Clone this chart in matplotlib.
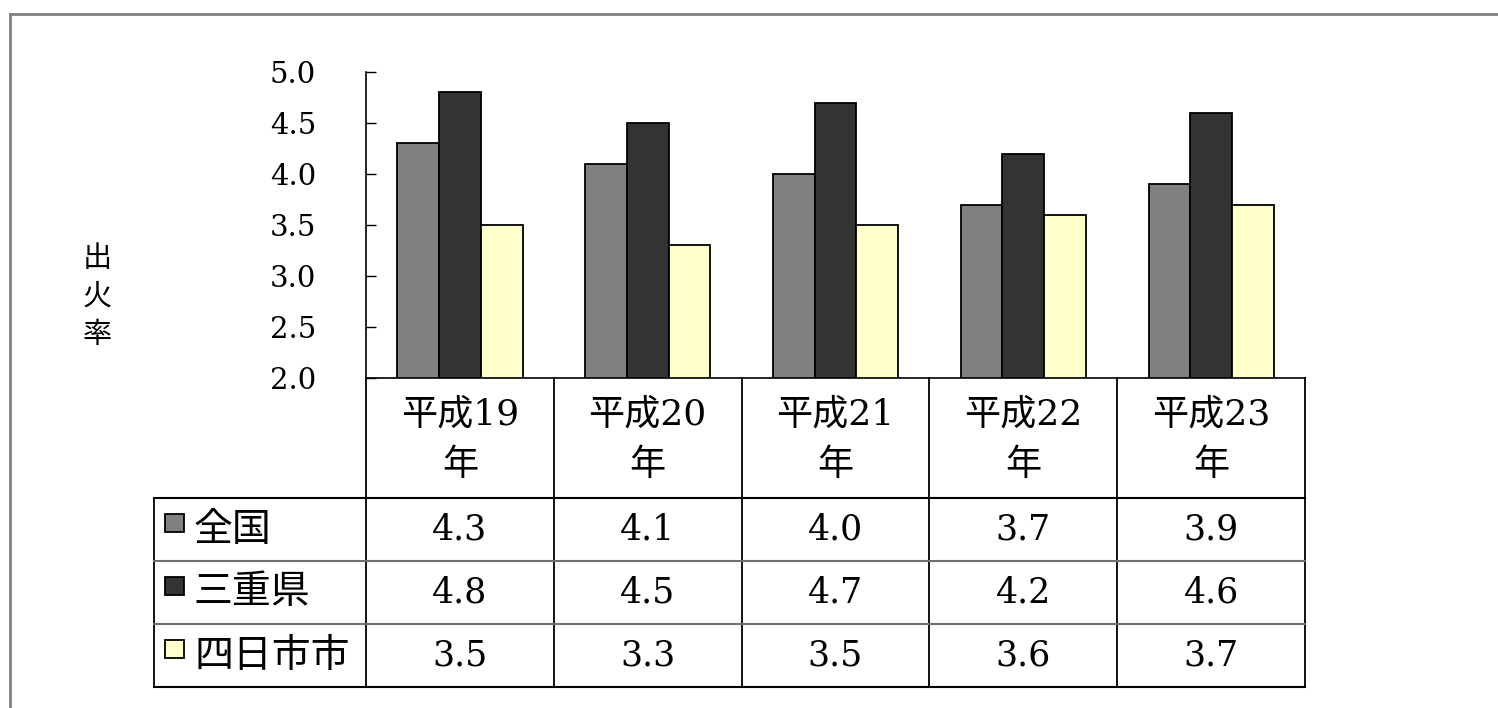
import matplotlib
matplotlib.use('Agg')
import matplotlib.pyplot as plt
from matplotlib.patches import Rectangle
import numpy as np

plt.rcParams['font.family'] = ['DejaVu Serif', 'Noto Sans CJK JP']

# DATA
years = ['平成19\n年', '平成20\n年', '平成21\n年', '平成22\n年', '平成23\n年']
series_names = ['全国', '三重県', '四日市市']
zenkoku = [4.3, 4.1, 4.0, 3.7, 3.9]
mie = [4.8, 4.5, 4.7, 4.2, 4.6]
yokkaichi = [3.5, 3.3, 3.5, 3.6, 3.7]
y_ticks = [2.0, 2.5, 3.0, 3.5, 4.0, 4.5, 5.0]

colors = ['#808080', '#333333', '#FFFFCC']
values = [zenkoku, mie, yokkaichi]

W, H = 1498, 708
fig = plt.figure(figsize=(W / 100, H / 100), dpi=100)

# layout in pixels
ax_l, ax_r, ax_t, ax_b = 366, 1305, 72, 378
tab_left = 154
row_edges = [378, 498, 561, 624, 687]

# overlay in pixel coords for table & frame
ov = fig.add_axes([0, 0, 1, 1])
ov.set_xlim(0, W)
ov.set_ylim(H, 0)
ov.axis('off')

ax = fig.add_axes([ax_l / W, 1 - ax_b / H, (ax_r - ax_l) / W, (ax_b - ax_t) / H])
ax.patch.set_alpha(0)

n = len(years)
w = 1 / 4.5
x = np.arange(n)
for j, (vals, c) in enumerate(zip(values, colors)):
    ax.bar(x + (j - 1) * w, vals, width=w, color=c, edgecolor='black',
           linewidth=1.3, bottom=0)
ax.set_xlim(-0.5, n - 0.5)
ax.set_ylim(2, 5)
ax.set_yticks(y_ticks)
ax.set_yticklabels(['%.1f' % t for t in y_ticks], fontsize=21)
ax.tick_params(axis='y', direction='in', length=7, pad=36, width=1)
ax.set_xticks([])
for s in ['top', 'right']:
    ax.spines[s].set_visible(False)
ax.spines['left'].set_linewidth(1.2)
ax.spines['bottom'].set_linewidth(1.2)

# y label
fig.text(97 / W, 1 - 297 / H, '出\n火\n率', ha='center', va='center',
         fontsize=21, family=['Noto Sans CJK JP'], linespacing=1.35)

# table
col_w = (ax_r - ax_l) / n
cols = [ax_l + i * col_w for i in range(n + 1)]
for cx in cols:
    ov.plot([cx, cx], [row_edges[0], row_edges[-1]], color='black', lw=1.3)
ov.plot([tab_left, tab_left], [row_edges[1], row_edges[-1]], color='black', lw=1.3)
for k, ry in enumerate(row_edges[1:]):
    c = 'black' if k in (0, 3) else '#707070'
    ov.plot([tab_left, ax_r], [ry, ry], color=c, lw=1.5)

for i, lab in enumerate(years):
    ov.text(cols[i] + col_w / 2, (row_edges[0] + row_edges[1]) / 2 + 2, lab,
            ha='center', va='center', fontsize=26, linespacing=1.6)

for r in range(3):
    yc = (row_edges[r + 1] + row_edges[r + 2]) / 2
    ov.add_patch(Rectangle((165, yc - 16), 19, 18, facecolor=colors[r],
                           edgecolor='black', lw=1.3))
    ov.text(194, yc, series_names[r], ha='left', va='center', fontsize=28,
            family=['Noto Sans CJK JP'])
    for i in range(n):
        ov.text(cols[i] + col_w / 2, yc, '%.1f' % values[r][i], ha='center',
                va='center', fontsize=25)

# outer frame
ov.plot([10, W + 5], [14, 14], color='#808080', lw=2)
ov.plot([10, 10], [14, H + 5], color='#808080', lw=2)

fig.savefig('out.png', dpi=100)
